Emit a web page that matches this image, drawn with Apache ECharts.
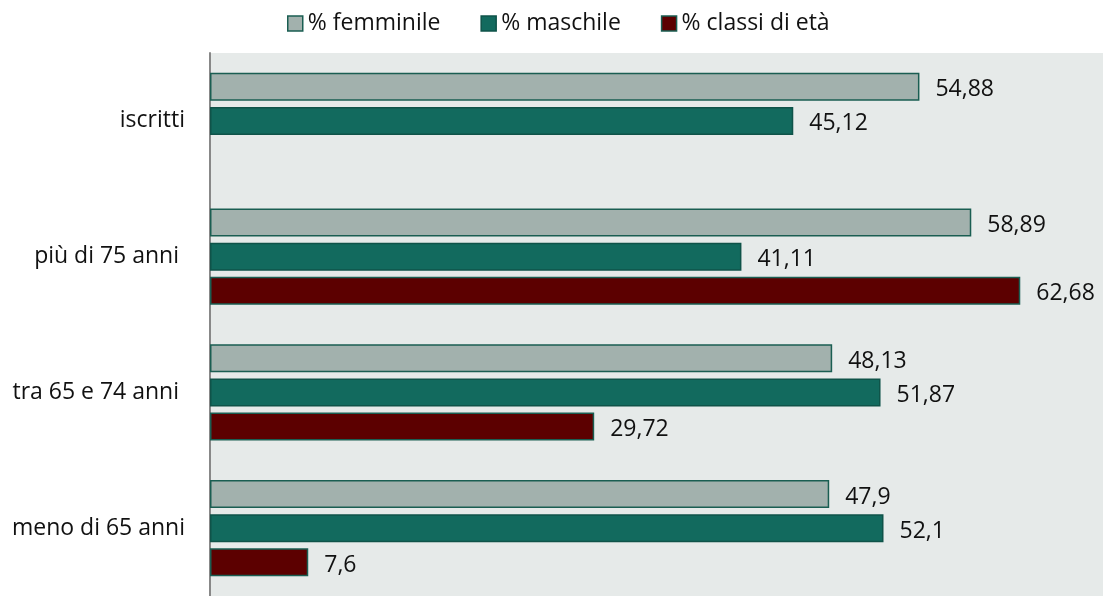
<!DOCTYPE html>
<html><head><meta charset="utf-8">
<script src="https://cdn.jsdelivr.net/npm/echarts@6/dist/echarts.min.js"></script>
<style>html,body{margin:0;padding:0;background:#fff}#c{width:1103px;height:596px}</style>
</head><body><div id="c"></div>
<script>
const categories = ['iscritti', 'più di 75 anni ', 'tra 65 e 74 anni ', 'meno di 65 anni'];
const femminile = [54.88, 58.89, 48.13, 47.9];
const maschile = [45.12, 41.11, 51.87, 52.1];
const classiEta = [null, 62.68, 29.72, 7.6];
const seriesNames = ['% femminile', '% maschile', '% classi di età'];

const FONT = '"Open Sans", sans-serif';
const fmt = p => (p.value == null ? '' : String(p.value).replace('.', ','));
const lbl = { show: true, position: 'right', distance: 16, offset: [0, 3], formatter: fmt, color: '#111', fontSize: 23, fontFamily: FONT };

const chart = echarts.init(document.getElementById('c'));
chart.setOption({
  animation: false,
  legend: {
    top: 12, left: 287, padding: 0, itemWidth: 15, itemHeight: 15, itemGap: 40,
    icon: 'rect',
    textStyle: { fontSize: 23, fontFamily: FONT, color: '#111', padding: [3, 0, 0, 0] },
    itemStyle: { borderWidth: 1.5 },
    data: seriesNames
  },
  grid: { left: 210, top: 53, width: 893, height: 550, show: true, backgroundColor: '#e6eae9', borderWidth: 0 },
  xAxis: { type: 'value', min: 0, max: 69.08, show: false },
  yAxis: {
    type: 'category', data: categories, inverse: true,
    axisLine: { show: true, lineStyle: { color: '#888', width: 2 } },
    axisTick: { show: false },
    axisLabel: { fontSize: 23, fontFamily: FONT, color: '#111', margin: 25, padding: [7, 0, 0, 0], formatter: v => v.replace(/ $/, '\u00a0') }
  },
  series: [
    { name: seriesNames[0], type: 'bar', data: femminile, barWidth: 28, barGap: '22%', barCategoryGap: '30%',
      itemStyle: { color: '#a2b1ad', borderColor: '#1a5e52', borderWidth: 1.5 }, label: lbl },
    { name: seriesNames[1], type: 'bar', data: maschile, barWidth: 28, barGap: '22%',
      itemStyle: { color: '#126a5e', borderColor: '#0f5349', borderWidth: 1.5 }, label: lbl },
    { name: seriesNames[2], type: 'bar', data: classiEta, barWidth: 28, barGap: '22%',
      itemStyle: { color: '#5c0000', borderColor: '#1a5e52', borderWidth: 1.5 }, label: lbl }
  ]
});
</script></body></html>
